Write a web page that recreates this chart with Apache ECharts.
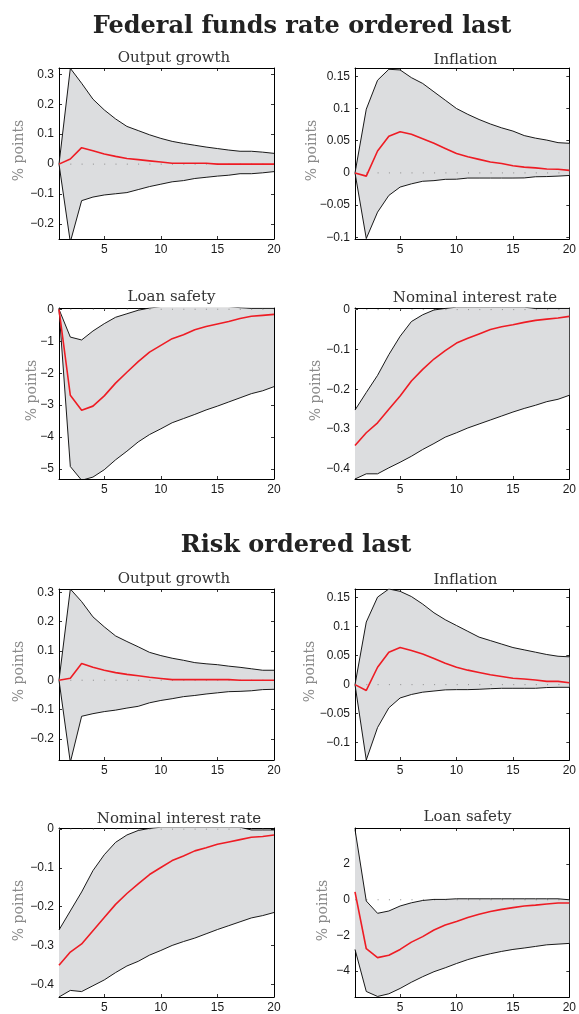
<!DOCTYPE html>
<html><head><meta charset="utf-8">
<script src="https://cdn.jsdelivr.net/npm/echarts@6/dist/echarts.min.js"></script>
<style>html,body{margin:0;padding:0;background:#fff}#c{width:579px;height:1014px}</style>
</head><body><div id="c"></div>
<script>
const periods = [1,2,3,4,5,6,7,8,9,10,11,12,13,14,15,16,17,18,19,20];
const xTicks = [5,10,15,20];

const sectionTitles = ['Federal funds rate ordered last', 'Risk ordered last'];
const panelTitles = ['Output growth','Inflation','Loan safety','Nominal interest rate','Output growth','Inflation','Nominal interest rate','Loan safety'];
const yLabel = '% points';

const fedOutputUpper  = [0,0.32,0.27,0.217,0.181,0.151,0.126,0.112,0.098,0.086,0.076,0.069,0.063,0.057,0.052,0.047,0.043,0.043,0.040,0.036];
const fedOutputMedian = [0,0.017,0.055,0.045,0.034,0.026,0.019,0.015,0.011,0.007,0.003,0.003,0.003,0.003,0,0,0,0,0,0];
const fedOutputLower  = [0,-0.26,-0.122,-0.11,-0.103,-0.099,-0.095,-0.085,-0.075,-0.067,-0.059,-0.055,-0.048,-0.044,-0.040,-0.037,-0.032,-0.032,-0.029,-0.025];

const fedInflUpper  = [0,0.099,0.144,0.161,0.160,0.148,0.139,0.126,0.113,0.100,0.091,0.083,0.076,0.070,0.065,0.058,0.054,0.051,0.047,0.046];
const fedInflMedian = [0,-0.005,0.034,0.057,0.064,0.060,0.053,0.046,0.038,0.030,0.025,0.021,0.017,0.0145,0.011,0.009,0.0078,0.006,0.0057,0.004];
const fedInflLower  = [0,-0.102,-0.061,-0.035,-0.022,-0.017,-0.013,-0.012,-0.010,-0.0098,-0.008,-0.008,-0.008,-0.008,-0.008,-0.0078,-0.006,-0.0057,-0.005,-0.004];

const fedLoanUpper  = [0,-0.87,-0.96,-0.68,-0.45,-0.25,-0.14,-0.03,0.04,0.08,0.08,0.08,0.08,0.08,0.08,0.08,0.05,0.03,0.03,0.03];
const fedLoanMedian = [0,-2.69,-3.16,-3.03,-2.71,-2.31,-1.97,-1.64,-1.34,-1.13,-0.92,-0.80,-0.64,-0.54,-0.46,-0.38,-0.29,-0.22,-0.19,-0.16];
const fedLoanLower  = [0,-4.92,-5.35,-5.25,-5.02,-4.71,-4.44,-4.15,-3.92,-3.74,-3.55,-3.42,-3.29,-3.15,-3.03,-2.90,-2.77,-2.64,-2.55,-2.42];

const fedRateUpper  = [-0.252,-0.208,-0.165,-0.113,-0.067,-0.030,-0.013,-0.001,0.003,0.006,0.006,0.006,0.006,0.006,0.006,0.006,0.003,0.003,0.003,0.003];
const fedRateMedian = [-0.341,-0.309,-0.284,-0.250,-0.217,-0.179,-0.150,-0.124,-0.103,-0.084,-0.072,-0.061,-0.050,-0.043,-0.038,-0.032,-0.027,-0.024,-0.021,-0.017];
const fedRateLower  = [-0.425,-0.412,-0.412,-0.397,-0.383,-0.368,-0.351,-0.336,-0.320,-0.309,-0.297,-0.287,-0.277,-0.267,-0.257,-0.248,-0.240,-0.231,-0.225,-0.215];

const riskOutputUpper  = [0,0.311,0.268,0.216,0.182,0.151,0.132,0.114,0.095,0.084,0.075,0.068,0.060,0.056,0.053,0.048,0.044,0.039,0.034,0.034];
const riskOutputMedian = [0,0.007,0.057,0.044,0.034,0.026,0.020,0.015,0.010,0.006,0.002,0.002,0.002,0.002,0.002,0.002,0,0,0,0];
const riskOutputLower  = [0,-0.28,-0.123,-0.114,-0.107,-0.102,-0.095,-0.089,-0.077,-0.069,-0.063,-0.056,-0.052,-0.047,-0.043,-0.039,-0.038,-0.036,-0.032,-0.031];

const riskInflUpper  = [0,0.108,0.151,0.165,0.161,0.152,0.139,0.124,0.112,0.102,0.092,0.082,0.076,0.070,0.064,0.060,0.056,0.052,0.049,0.048];
const riskInflMedian = [0,-0.010,0.030,0.056,0.064,0.059,0.053,0.045,0.037,0.030,0.025,0.021,0.017,0.014,0.011,0.0097,0.008,0.0057,0.0057,0.0034];
const riskInflLower  = [0,-0.13,-0.074,-0.040,-0.023,-0.017,-0.013,-0.011,-0.009,-0.0086,-0.0086,-0.008,-0.007,-0.0063,-0.0063,-0.0063,-0.0063,-0.005,-0.0046,-0.0046];

const riskRateUpper  = [-0.260,-0.211,-0.162,-0.107,-0.066,-0.034,-0.015,-0.0034,0.002,0.005,0.005,0.005,0.005,0.005,0.005,0.005,0.005,-0.002,-0.002,-0.002];
const riskRateMedian = [-0.351,-0.317,-0.296,-0.262,-0.228,-0.194,-0.166,-0.141,-0.117,-0.099,-0.081,-0.069,-0.056,-0.048,-0.039,-0.033,-0.027,-0.021,-0.019,-0.015];
const riskRateLower  = [-0.433,-0.416,-0.419,-0.404,-0.389,-0.370,-0.353,-0.341,-0.325,-0.313,-0.300,-0.290,-0.281,-0.270,-0.259,-0.249,-0.239,-0.229,-0.223,-0.215];

const riskLoanUpper  = [3.95,-0.07,-0.76,-0.63,-0.35,-0.17,-0.04,0.02,0.02,0.055,0.055,0.055,0.055,0.055,0.055,0.055,0.055,0.055,0.055,0];
const riskLoanMedian = [0.44,-2.75,-3.25,-3.12,-2.79,-2.38,-2.07,-1.70,-1.42,-1.22,-1.00,-0.81,-0.66,-0.54,-0.44,-0.35,-0.30,-0.24,-0.18,-0.18];
const riskLoanLower  = [-2.79,-5.15,-5.43,-5.28,-4.98,-4.63,-4.32,-4.04,-3.82,-3.58,-3.36,-3.18,-3.03,-2.90,-2.79,-2.71,-2.62,-2.53,-2.49,-2.45];

const tickOutput = [-0.2,-0.1,0,0.1,0.2,0.3];
const tickInfl = [-0.1,-0.05,0,0.05,0.1,0.15];
const tickLoanFed = [-5,-4,-3,-2,-1,0];
const tickRate = [-0.4,-0.3,-0.2,-0.1,0];
const tickLoanRisk = [-4,-2,0,2];

const yRanges = [[-0.25,0.321],[-0.1027,0.163],[-5.31,0.04],[-0.425,0.004],[-0.272,0.311],[-0.130,0.165],[-0.433,0.003],[-5.46,4.03]];

const panelData = [
  [fedOutputUpper, fedOutputMedian, fedOutputLower, tickOutput],
  [fedInflUpper, fedInflMedian, fedInflLower, tickInfl],
  [fedLoanUpper, fedLoanMedian, fedLoanLower, tickLoanFed],
  [fedRateUpper, fedRateMedian, fedRateLower, tickRate],
  [riskOutputUpper, riskOutputMedian, riskOutputLower, tickOutput],
  [riskInflUpper, riskInflMedian, riskInflLower, tickInfl],
  [riskRateUpper, riskRateMedian, riskRateLower, tickRate],
  [riskLoanUpper, riskLoanMedian, riskLoanLower, tickLoanRisk]
];

// layout (pixels)
const colLeft = [59, 355];
const plotW = 215;
const rowTop = [68, 308, 589, 828];
const plotH = 171;
const titleCx = [174, 465.5, 171.5, 475, 174, 465.5, 179, 467.5];
const titleBase = [63, 65, 302, 303, 584, 585, 824, 822];
const ylabCx = [19, 312, 32, 316, 19, 310, 19, 323];

const fmt = v => {
  let s = String(Math.round(v*1000)/1000);
  return s.replace('-', '\u2212');
};

const grids = [], xAxes = [], yAxes = [], series = [], graphics = [];
panelData.forEach((p, i) => {
  const [upper, median, lower, ticks] = p;
  const left = colLeft[i % 2], top = rowTop[Math.floor(i / 2)];
  grids.push({left: left, top: top, width: plotW, height: plotH, containLabel: false, show: true, backgroundColor: '#fff', borderWidth: 0});
  const tickStyle = {show: true, inside: true, length: 3, lineStyle: {color: '#000', width: 0.8}};
  const lineStyle = {show: true, onZero: false, lineStyle: {color: '#000', width: 1}};
  xAxes.push({gridIndex: i, type: 'value', min: 1, max: 20, position: 'bottom',
    axisLine: lineStyle, axisTick: Object.assign({customValues: xTicks}, tickStyle),
    axisLabel: {customValues: xTicks, color: '#1a1a1a', fontFamily: 'Liberation Sans', fontSize: 12, margin: 5},
    splitLine: {show: false}});
  xAxes.push({gridIndex: i, type: 'value', min: 1, max: 20, position: 'top',
    axisLine: lineStyle, axisTick: Object.assign({customValues: xTicks}, tickStyle),
    axisLabel: {show: false}, splitLine: {show: false}});
  yAxes.push({gridIndex: i, type: 'value', min: yRanges[i][0], max: yRanges[i][1], position: 'left',
    axisLine: lineStyle, axisTick: Object.assign({customValues: ticks}, tickStyle),
    axisLabel: {customValues: ticks, formatter: fmt, color: '#1a1a1a', fontFamily: 'Liberation Sans', fontSize: 12, margin: 5},
    splitLine: {show: false}});
  yAxes.push({gridIndex: i, type: 'value', min: yRanges[i][0], max: yRanges[i][1], position: 'right',
    axisLine: lineStyle, axisTick: Object.assign({customValues: ticks}, tickStyle),
    axisLabel: {show: false}, splitLine: {show: false}});
  const xi = 2 * i, yi = 2 * i;
  const pts = arr => periods.map((x, k) => [x, arr[k]]);
  // shaded band between lower and upper, built through the axes' coord()
  series.push({type: 'custom', xAxisIndex: xi, yAxisIndex: yi, data: [[periods[0], lower[0]]], silent: true, z: 1, clip: true,
    renderItem: (params, api) => {
      const top = periods.map((x, k) => api.coord([x, upper[k]]));
      const bot = periods.map((x, k) => api.coord([x, lower[k]])).reverse();
      return {type: 'polygon', shape: {points: top.concat(bot)}, style: {fill: '#dcdddf', stroke: null}};
    }});
  series.push({type: 'line', xAxisIndex: xi, yAxisIndex: yi, data: periods.map(x => [x, 0]), symbol: 'none', silent: true, z: 2,
    lineStyle: {color: '#8c8c8c', width: 1, type: [1, 10.3]}});
  series.push({type: 'line', xAxisIndex: xi, yAxisIndex: yi, data: pts(upper), symbol: 'none', silent: true, z: 3,
    lineStyle: {color: '#000', width: 0.9}});
  series.push({type: 'line', xAxisIndex: xi, yAxisIndex: yi, data: pts(lower), symbol: 'none', silent: true, z: 3,
    lineStyle: {color: '#000', width: 0.9}});
  series.push({type: 'line', xAxisIndex: xi, yAxisIndex: yi, data: pts(median), symbol: 'none', silent: true, z: 4,
    lineStyle: {color: '#ee1c24', width: 1.6}});
  graphics.push({type: 'text', x: titleCx[i], y: titleBase[i] + 3,
    style: {text: panelTitles[i], align: 'center', verticalAlign: 'bottom', fontFamily: 'DejaVu Serif', fontSize: 15, fill: '#333'}});
  graphics.push({type: 'text', x: ylabCx[i], y: top + plotH / 2 - 3, rotation: Math.PI / 2,
    style: {text: yLabel, align: 'center', verticalAlign: 'middle', fontFamily: 'DejaVu Serif', fontSize: 14, fill: '#8a8a8a'}});
});
graphics.push({type: 'text', x: 302, y: 33 + 6, style: {text: sectionTitles[0], align: 'center', verticalAlign: 'bottom',
  fontFamily: 'DejaVu Serif', fontWeight: 'bold', fontSize: 24, fill: '#222'}});
graphics.push({type: 'text', x: 296, y: 552 + 6, style: {text: sectionTitles[1], align: 'center', verticalAlign: 'bottom',
  fontFamily: 'DejaVu Serif', fontWeight: 'bold', fontSize: 24, fill: '#222'}});

const chart = echarts.init(document.getElementById('c'), null, {renderer: 'canvas'});
chart.setOption({animation: false, backgroundColor: '#fff', grid: grids, xAxis: xAxes, yAxis: yAxes, series: series, graphic: graphics});
</script></body></html>
